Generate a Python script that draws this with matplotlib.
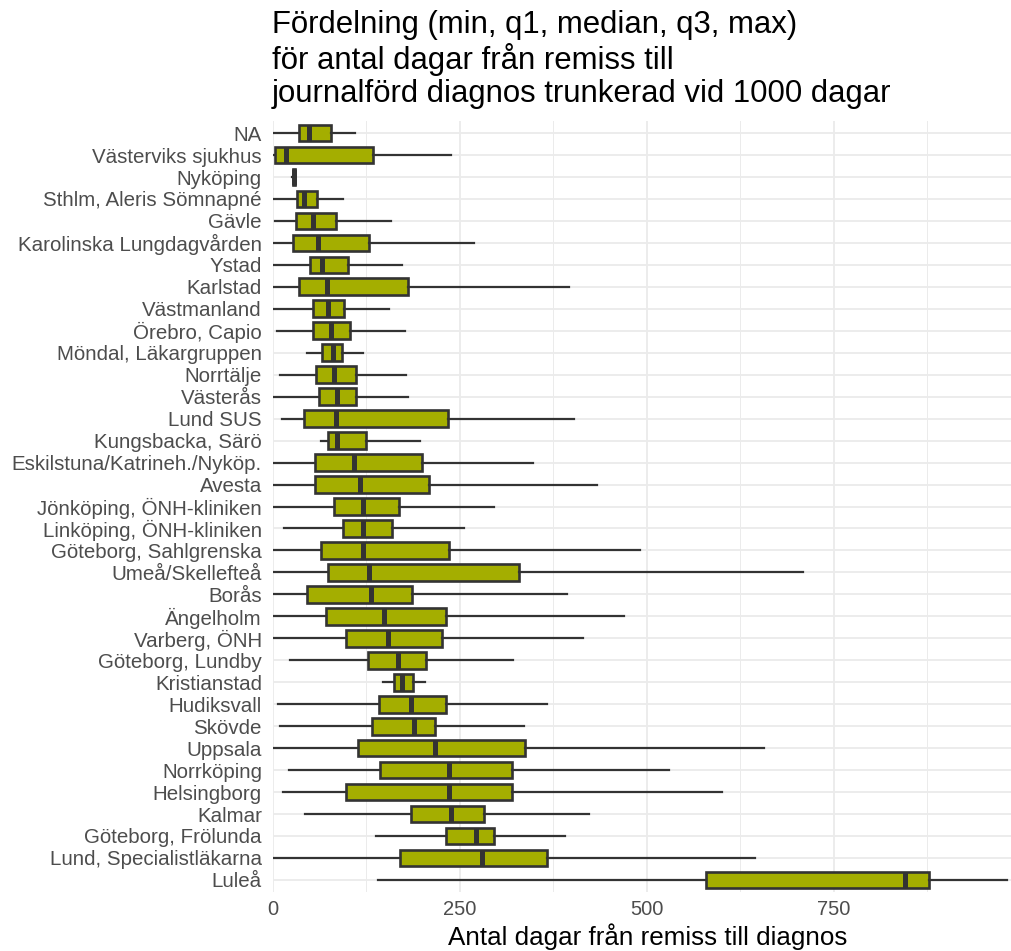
import matplotlib
matplotlib.use("Agg")
import matplotlib.pyplot as plt
from matplotlib.ticker import MultipleLocator

categories = ["NA", "Västerviks sjukhus", "Nyköping", "Sthlm, Aleris Sömnapné", "Gävle",
              "Karolinska Lungdagvården", "Ystad", "Karlstad", "Västmanland", "Örebro, Capio",
              "Möndal, Läkargruppen", "Norrtälje", "Västerås", "Lund SUS", "Kungsbacka, Särö",
              "Eskilstuna/Katrineh./Nyköp.", "Avesta", "Jönköping, ÖNH-kliniken",
              "Linköping, ÖNH-kliniken", "Göteborg, Sahlgrenska", "Umeå/Skellefteå", "Borås",
              "Ängelholm", "Varberg, ÖNH", "Göteborg, Lundby", "Kristianstad", "Hudiksvall",
              "Skövde", "Uppsala", "Norrköping", "Helsingborg", "Kalmar", "Göteborg, Frölunda",
              "Lund, Specialistläkarna", "Luleå"]

v_min = [1, 1, 26, 1, 3, 1, 1, 1, 1, 6, 46, 10, 1, 12, 64, 1, 1, 1, 15, 1, 1, 1, 1, 1, 23,
         147, 7, 9, 1, 22, 13, 43, 138, 1, 141]
v_q1 = [35, 3, 26.5, 32, 31, 27, 49, 35, 54, 53, 66, 57, 62, 42, 74, 56, 56, 82, 94, 64, 73,
        46, 71, 98, 127, 162, 142, 132, 114, 143, 98, 185, 231, 170, 579]
v_median = [48, 18, 28, 42, 54, 60, 65, 72, 74, 77, 80, 81, 86, 84, 86, 108, 117, 121, 121,
            121, 128, 131, 149, 154, 167, 172, 185, 189, 217, 235, 236, 238, 272, 279, 845]
v_q3 = [78, 134, 29.5, 59, 84, 129, 100, 180, 95, 103, 92, 111, 111, 234, 124, 199, 209, 168,
        159, 236, 329, 186, 231, 226, 205, 187, 232, 216, 337, 319, 320, 282, 296, 367, 878]
v_max = [109, 238, 30, 94, 158, 269, 172, 396, 155, 176, 120, 178, 180, 403, 196, 348, 433,
         296, 255, 491, 709, 393, 469, 415, 321, 203, 366, 336, 657, 529, 601, 423, 390, 644, 981]

title = ("Fördelning (min, q1, median, q3, max)\n"
         "för antal dagar från remiss till\n"
         "journalförd diagnos trunkerad vid 1000 dagar")
xlabel = "Antal dagar från remiss till diagnos"
xticks = [0, 250, 500, 750]

plt.rcParams['font.family'] = ['Liberation Sans', 'DejaVu Sans']

W, H = 1011, 951
fig = plt.figure(figsize=(W / 100, H / 100), dpi=100)
left, right, top, bottom = 273, 1011, 121, 892
ax = fig.add_axes([left / W, 1 - bottom / H, (right - left) / W, (bottom - top) / H])

stats = []
for i, c in enumerate(categories):
    stats.append(dict(med=v_median[i], q1=v_q1[i], q3=v_q3[i],
                      whislo=v_min[i], whishi=v_max[i], fliers=[], label=c))

edge = "#333333"
fill = "#A4AE00"
pos = list(range(len(categories)))
kw = dict(positions=pos, widths=0.76, patch_artist=True, showcaps=False, showfliers=False,
          boxprops=dict(facecolor=fill, edgecolor=edge, linewidth=1.9),
          medianprops=dict(color=edge, linewidth=3.6, solid_capstyle='butt'),
          whiskerprops=dict(color=edge, linewidth=1.6))
try:
    ax.bxp(stats, orientation='horizontal', **kw)
except TypeError:
    ax.bxp(stats, vert=False, **kw)

ax.set_ylim(len(categories) - 0.45, -0.55)
ax.set_xlim(0, 987)
ax.set_yticks(pos)
ax.set_yticklabels(categories)
ax.set_xticks(xticks)
ax.set_xticklabels([str(t) for t in xticks])
ax.xaxis.set_minor_locator(MultipleLocator(125))

ax.set_axisbelow(True)
ax.grid(which='major', color='#EBEBEB', linewidth=1.3)
ax.grid(which='minor', axis='x', color='#EBEBEB', linewidth=0.7)
for s in ax.spines.values():
    s.set_visible(False)
ax.tick_params(axis='both', which='both', length=0)
ax.tick_params(axis='y', labelsize=14.8, labelcolor='#4D4D4D', pad=8)
ax.tick_params(axis='x', labelsize=14.5, labelcolor='#4D4D4D', pad=6)

fig.text(272 / W, 1 - 10 / H, title, ha='left', va='top', fontsize=22.4, color='black',
         linespacing=1.12)
fig.text(648 / W, 1 - 945 / H, xlabel, ha='center', va='baseline',
         fontsize=18.7, color='black')

fig.savefig("out.png", dpi=100, facecolor='white')
